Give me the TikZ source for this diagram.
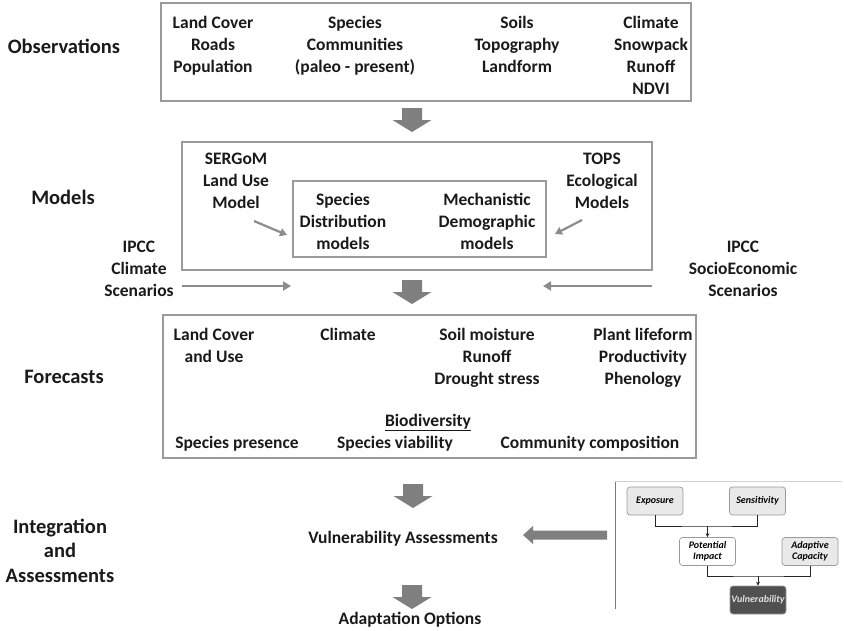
\documentclass[tikz,border=0pt]{standalone}
\usepackage{fontspec}
\setmainfont{Carlito}
\usetikzlibrary{arrows.meta}

\definecolor{boxgray}{HTML}{9A9A9A}
\definecolor{blockgray}{HTML}{7F7F7F}
\definecolor{thingray}{HTML}{8C8C8C}
\definecolor{inkblack}{HTML}{1A1A1A}
\definecolor{insetfill}{HTML}{E9E9E9}
\definecolor{insetdark}{HTML}{505050}
\definecolor{insettext}{HTML}{E2E2E2}

\newcommand\bodytxt{\bfseries\fontsize{17.5}{22}\selectfont}
\newcommand\labeltxt{\bfseries\fontsize{20.5}{24.5}\selectfont}
\newcommand\insettxt{\bfseries\itshape\fontsize{10}{11.5}\selectfont}

\begin{document}
% multi-line nodes are placed by the baseline of their last line
\begin{tikzpicture}[x=1pt,y=-1pt,
  txt/.style={font=\bodytxt, text=inkblack, align=center, inner sep=0pt, anchor=base},
  lbl/.style={font=\labeltxt, text=inkblack, align=center, inner sep=0pt, anchor=base},
  panel/.style={draw=boxgray, line width=1.3pt, inner sep=0pt},
  feed/.style={draw=thingray, line width=2.6pt, -{Triangle[length=8pt,width=9pt]}},
  ibox/.style={draw=boxgray, line width=0.7pt, rounded corners=3pt, minimum width=56pt,
               minimum height=28pt, font=\insettxt, align=center, inner sep=1pt},
  iline/.style={draw=black!85, line width=0.8pt},
  downblock/.pic={\fill[blockgray] (-10,0) -- (10,0) -- (10,12) -- (19.5,12) -- (0,24)
                  -- (-19.5,12) -- (-10,12) -- cycle;},
  leftblock/.pic={\fill[blockgray] (0,0) -- (10,-9) -- (10,-4.5) -- (84,-4.5) -- (84,4.5)
                  -- (10,4.5) -- (10,9) -- cycle;}
]
\useasboundingbox[fill=white] (0,0) rectangle (844,630);

% stage labels
\node[lbl] (lobs)  at (64,53)  {Observations};
\node[lbl] (lmod)  at (63,204) {Models};
\node[lbl] (lfor)  at (64,383) {Forecasts};
\node[lbl] (lint)  at (60,582) {Integration\\and\\Assessments};

% observations
\node[panel, minimum width=530pt, minimum height=98pt] (obsbox) at (426,52) {};
\node[txt] (obsA) at (213,72) {Land Cover\\Roads\\Population};
\node[txt] (obsB) at (355,72) {Species\\Communities\\(paleo - present)};
\node[txt] (obsC) at (517,72) {Soils\\Topography\\Landform};
\node[txt] (obsD) at (651,94) {Climate\\Snowpack\\Runoff\\NDVI};

\pic at (412,108) {downblock};

% models
\node[panel, minimum width=470pt, minimum height=128pt] (modbox) at (417,206) {};
\node[panel, minimum width=253pt, minimum height=76pt] (corebox) at (419.5,219) {};
\node[txt] (sergom) at (236,208) {SERGoM\\Land Use\\Model};
\node[txt] (tops)   at (602,208) {TOPS\\Ecological\\Models};
\node[txt] (sdm)    at (343,249) {Species\\Distribution\\models};
\node[txt] (mdm)    at (487,249) {Mechanistic\\Demographic\\models};
\coordinate (sgTail) at (254,221);
\coordinate (sgHead) at (287,235);
\coordinate (tpTail) at (582,220);
\coordinate (tpHead) at (555,234);
\draw[thingray, line width=2.2pt, -{Triangle[length=7pt,width=8pt]}] (sgTail) -- (sgHead);
\draw[thingray, line width=2.2pt, -{Triangle[length=7pt,width=8pt]}] (tpTail) -- (tpHead);

\node[txt] (ipccA) at (139,296) {IPCC\\Climate\\Scenarios};
\node[txt] (ipccB) at (743,296) {IPCC\\SocioEconomic\\Scenarios};
\coordinate (clTail) at (182,286);
\coordinate (clHead) at (291,286);
\coordinate (seTail) at (652,286);
\coordinate (seHead) at (543,286);
\draw[feed] (clTail) -- (clHead);
\draw[feed] (seTail) -- (seHead);

\pic at (412,280) {downblock};

% forecasts
\node[panel, minimum width=533pt, minimum height=143pt] (forbox) at (429.5,386.5) {};
\node[txt] (fLand)  at (214,362) {Land Cover\\and Use};
\node[txt] (fClim)  at (348,340) {Climate};
\node[txt] (fSoil)  at (487,384) {Soil moisture\\Runoff\\Drought stress};
\node[txt] (fPlant) at (643,384) {Plant lifeform\\Productivity\\Phenology};
\node[txt] (fBio)   at (428,426) {\underline{Biodiversity}};
\node[txt] (fPres)  at (237,448) {Species presence};
\node[txt] (fViab)  at (395,448) {Species viability};
\node[txt] (fComm)  at (590,448) {Community composition};

\pic at (413,484) {downblock};

% integration and assessments
\node[txt] (vuln)  at (403,543) {Vulnerability Assessments};
\pic at (412,585) {downblock};
\node[txt] (adapt) at (410,624) {Adaptation Options};
\pic at (523,535) {leftblock};

% vulnerability framework inset
\draw[boxgray!80!black, line width=0.8pt] (615,609) -- (615,481);
\draw[boxgray!45, line width=0.8pt] (615,481) -- (842,481);
\node[ibox, fill=insetfill] (expo)  at (655,501)   {Exposure};
\node[ibox, fill=insetfill] (sens)  at (757.5,501) {Sensitivity};
\node[ibox, fill=white]     (pot)   at (707.5,551.5) {Potential\\Impact};
\node[ibox, fill=insetfill] (adcap) at (810,551.5) {Adaptive\\Capacity};
\node[ibox, fill=insetdark, text=insettext] (vul) at (758,600) {Vulnerability};
\coordinate (j1) at (pot.north |- 0,526);
\coordinate (j2) at (vul.north |- 0,576);
\draw[iline] (expo.south) |- (j1) -| (sens.south);
\draw[iline, -{Stealth[length=4pt,width=4pt]}] (j1) -- (pot.north);
\draw[iline] (pot.south) |- (j2) -| (adcap.south);
\draw[iline, -{Stealth[length=4pt,width=4pt]}] (j2) -- (vul.north);
\end{tikzpicture}
\end{document}
